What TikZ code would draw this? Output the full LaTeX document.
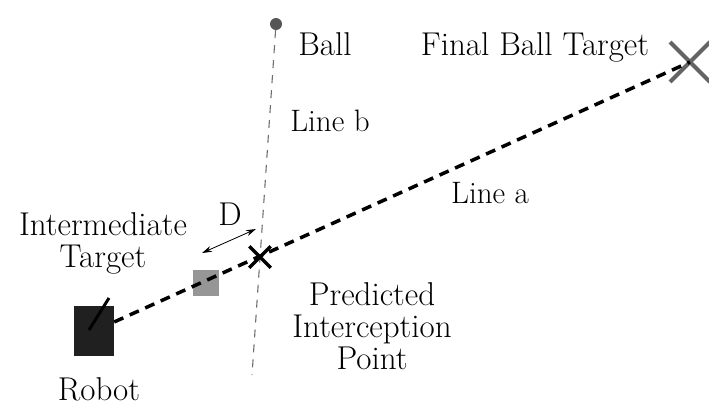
\documentclass[tikz,border=0pt]{standalone}
\usepackage{tikz}
\usetikzlibrary{shapes.misc,arrows.meta}
\definecolor{ballgray}{RGB}{85, 85, 85}
\definecolor{linegray}{RGB}{110, 110, 110}
\definecolor{xgray}{RGB}{100, 100, 100}
\definecolor{boxgray}{RGB}{150, 150, 150}
\definecolor{robotblack}{RGB}{32, 32, 32}
\tikzset{
  lbl/.style={font=\fontsize{33}{32}\selectfont, align=center, inner sep=0pt},
  smalllbl/.style={font=\fontsize{31}{32}\selectfont, inner sep=0pt}
}

\begin{document}
\begin{tikzpicture}[x=1pt, y=-1pt]
\useasboundingbox (0,0) rectangle (709,408);
\node[circle, fill=ballgray, inner sep=0pt, minimum size=12pt] (ball) at (276,24) {};
\node[cross out, draw=xgray, line width=4pt, inner sep=0pt, minimum size=36pt] (finalx) at (690,62) {};
\node[fill=boxgray, inner sep=0pt, minimum size=26pt] (itarget) at (206,283) {};
\node[fill=robotblack, inner sep=0pt, minimum width=40pt, minimum height=50pt] (robot) at (94,331) {};
\coordinate (bend) at (252,375);
\coordinate (head) at (109,298);
\coordinate (da) at (202,253);
\coordinate (db) at (256,229);

\draw[linegray, line width=1.1pt, dash pattern=on 8pt off 7pt] (ball) -- (bend);
\draw[line width=3.5pt, dash pattern=on 10pt off 7pt] (robot) -- (finalx.center);
\draw[line width=3pt, black] (89,330) -- (head);
\node[cross out, draw=black, line width=3.5pt, inner sep=0pt, minimum size=18pt] (predx) at (260,257) {};
\draw[{Stealth[length=10pt,width=6pt]}-{Stealth[length=10pt,width=6pt]}, line width=0.8pt] (da) -- (db);

\node[lbl] (balllbl) at (325,44) {Ball};
\node[smalllbl] (lineb) at (330,121) {Line b};
\node[lbl] (finallbl) at (535,47) {Final Ball Target};
\node[smalllbl] (linea) at (490,193) {Line a};
\node[lbl] (dlbl) at (230,214) {D};
\node[lbl] (itlbl) at (103,243) {Intermediate\\Target};
\node[lbl] (predlbl) at (372,326) {Predicted\\Interception\\Point};
\node[lbl] (robotlbl) at (99,389) {Robot};
\end{tikzpicture}
\end{document}
